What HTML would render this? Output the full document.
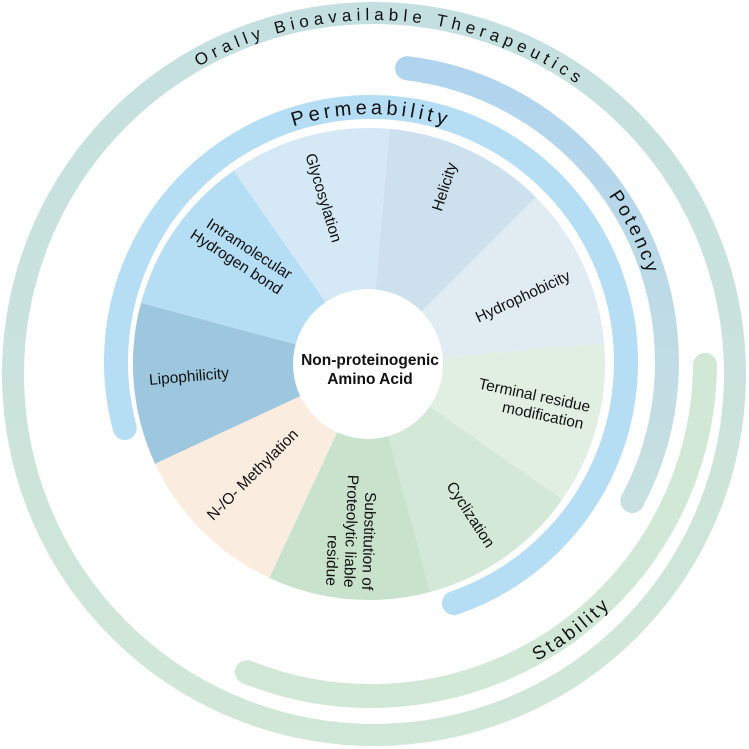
<!DOCTYPE html>
<html><head><meta charset="utf-8"><style>
html,body{margin:0;padding:0;background:#fff;}
svg{display:block;}
text{font-family:"Liberation Sans",Arial,sans-serif;fill:#111;}
</style></head><body>
<svg width="749" height="749" viewBox="0 0 749 749" xmlns="http://www.w3.org/2000/svg">
<defs>
<linearGradient id="gOut" x1="0" y1="0" x2="0" y2="749" gradientUnits="userSpaceOnUse">
<stop offset="0" stop-color="#c4dfe0"/><stop offset="1" stop-color="#d1e7d7"/></linearGradient>
<linearGradient id="gPot" x1="0" y1="60" x2="0" y2="510" gradientUnits="userSpaceOnUse">
<stop offset="0" stop-color="#b0d4ef"/><stop offset="1" stop-color="#c8e0df"/></linearGradient>
<path id="pOr" d="M 20,374 A 354 354 0 0 1 728,374" fill="none"/>
<path id="pPe" d="M 123,362 A 248 248 0 0 1 619,362" fill="none"/>
<path id="pPo" d="M 371,72 A 290 290 0 0 1 661,362" fill="none"/>
<path id="pSt" d="M 371,704 A 342 342 0 0 0 713,362" fill="none"/>
</defs>

<circle cx="374" cy="374" r="361" fill="none" stroke="url(#gOut)" stroke-width="22"/>
<path d="M 407.1,68.2 A 296 296 0 0 1 632.3,501" fill="none" stroke="url(#gPot)" stroke-width="24" stroke-linecap="round"/>
<path d="M 705,364.9 A 334 334 0 0 1 246.9,672.1" fill="none" stroke="#d2e8d7" stroke-width="24" stroke-linecap="round"/>
<path d="M 124.7,428 A 255 255 0 1 1 454,603.1" fill="none" stroke="#b5ddf3" stroke-width="24" stroke-linecap="round"/>

<path d="M369,364 L389.6,128.9 A236 236 0 0 1 535.9,197.1 Z" fill="#cde0ee"/>
<path d="M369,364 L535.9,197.1 A236 236 0 0 1 604.1,343.4 Z" fill="#e1ebf2"/>
<path d="M369,364 L604.1,343.4 A236 236 0 0 1 562.3,499.4 Z" fill="#e0efe2"/>
<path d="M369,364 L562.3,499.4 A236 236 0 0 1 430.1,592 Z" fill="#d3e8d7"/>
<path d="M369,364 L430.1,592 A236 236 0 0 1 269.3,577.9 Z" fill="#c8e2cc"/>
<path d="M369,364 L269.3,577.9 A236 236 0 0 1 155.1,463.7 Z" fill="#fbece0"/>
<path d="M369,364 L155.1,463.7 A236 236 0 0 1 141,302.9 Z" fill="#9dc6df"/>
<path d="M369,364 L141,302.9 A236 236 0 0 1 233.6,170.7 Z" fill="#b5ddf3"/>
<path d="M369,364 L233.6,170.7 A236 236 0 0 1 389.6,128.9 Z" fill="#d4e8f6"/>
<circle cx="368" cy="364" r="75" fill="#fff"/>

<g font-size="15.5">
<text transform="translate(323,198) rotate(73)" text-anchor="middle" dominant-baseline="central">Glycosylation</text>
<text transform="translate(445,187) rotate(-72)" text-anchor="middle" dominant-baseline="central">Helicity</text>
<text transform="translate(523,297) rotate(-25)" text-anchor="middle" dominant-baseline="central">Hydrophobicity</text>
<g transform="translate(589,412) rotate(12)">
<text x="0" y="0" text-anchor="end">Terminal residue</text>
<text x="-3" y="18" text-anchor="end">modification</text>
</g>
<text transform="translate(470,515) rotate(57)" text-anchor="middle" dominant-baseline="central">Cyclization</text>
<g transform="translate(362,590) rotate(92)">
<text x="0" y="0" text-anchor="end">Substitution of</text>
<text x="-2" y="18" text-anchor="end">Proteolytic liable</text>
<text x="-3" y="36" text-anchor="end">residue</text>
</g>
<text transform="translate(253,475) rotate(-45)" text-anchor="middle" dominant-baseline="central">N-/O- Methylation</text>
<text transform="translate(189,377) rotate(-5)" text-anchor="middle" dominant-baseline="central">Lipophilicity</text>
<g transform="translate(278,295) rotate(33)">
<text x="0" y="-18" text-anchor="end">Intramolecular</text>
<text x="0" y="0" text-anchor="end">Hydrogen bond</text>
</g>
</g>

<text x="370" y="365" font-size="15.5" font-weight="bold" text-anchor="middle">Non-proteinogenic</text>
<text x="370" y="384" font-size="15.5" font-weight="bold" text-anchor="middle">Amino Acid</text>

<text font-size="17" letter-spacing="5"><textPath href="#pOr" startOffset="574" text-anchor="middle">Orally Bioavailable Therapeutics</textPath></text>
<text font-size="20" letter-spacing="4"><textPath href="#pPe" startOffset="50%" text-anchor="middle">Permeability</textPath></text>
<text font-size="19" letter-spacing="3"><textPath href="#pPo" startOffset="323" text-anchor="middle">Potency</textPath></text>
<text font-size="19" letter-spacing="3"><textPath href="#pSt" startOffset="220" text-anchor="middle">Stability</textPath></text>
</svg>
</body></html>
